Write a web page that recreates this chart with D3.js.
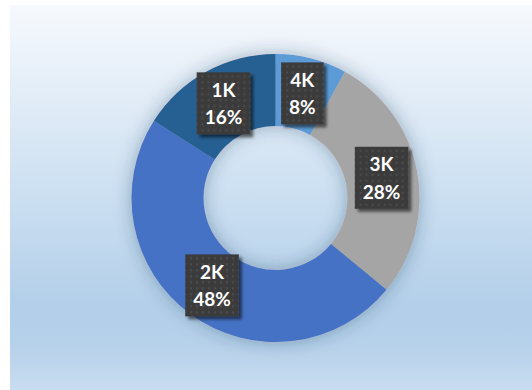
<!DOCTYPE html>
<html>
<head>
<meta charset="utf-8">
<script src="https://cdn.jsdelivr.net/npm/d3@7"></script>
<style>
  html, body { margin: 0; padding: 0; background: #ffffff; }
  svg { display: block; }
</style>
</head>
<body>
<svg id="chart" width="532" height="390"></svg>
<script>
// Resolution shares, clockwise from 12 o'clock
const categories = ["4K", "3K", "2K", "1K"];
const shares = [8, 28, 48, 16];
const sliceColors = ["#5b9bd5", "#a5a5a5", "#4472c4", "#255e91"];

const width = 532, height = 390;
const svg = d3.select("#chart");
const defs = svg.append("defs");

// plot area background: pale to light blue vertical wash
const bg = defs.append("linearGradient")
  .attr("id", "bgGrad").attr("x1", 0).attr("y1", 0).attr("x2", 0).attr("y2", 1);
[[0, "#f6f9fd"], [0.25, "#e1ecf7"], [0.5, "#cbdff1"], [0.78, "#b3cfe9"], [0.88, "#b6d1ea"], [1, "#c8dcf0"]]
  .forEach(([o, c]) => bg.append("stop").attr("offset", o).attr("stop-color", c));

// soft shadow around the ring
const ringShadow = defs.append("filter").attr("id", "ringShadow")
  .attr("x", "-30%").attr("y", "-30%").attr("width", "160%").attr("height", "160%");
ringShadow.append("feGaussianBlur").attr("in", "SourceAlpha").attr("stdDeviation", 9).attr("result", "blur");
ringShadow.append("feFlood").attr("flood-color", "#1f3550").attr("flood-opacity", 0.35).attr("result", "col");
ringShadow.append("feComposite").attr("in", "col").attr("in2", "blur").attr("operator", "in").attr("result", "sh");
const rm = ringShadow.append("feMerge");
rm.append("feMergeNode").attr("in", "sh");
rm.append("feMergeNode").attr("in", "SourceGraphic");

// shadow under the label boxes
const boxShadow = defs.append("filter").attr("id", "boxShadow")
  .attr("x", "-30%").attr("y", "-30%").attr("width", "160%").attr("height", "160%");
boxShadow.append("feGaussianBlur").attr("in", "SourceAlpha").attr("stdDeviation", 1.8).attr("result", "blur");
boxShadow.append("feOffset").attr("in", "blur").attr("dx", 2.5).attr("dy", 2.5).attr("result", "off");
boxShadow.append("feFlood").attr("flood-color", "#000").attr("flood-opacity", 0.55).attr("result", "col");
boxShadow.append("feComposite").attr("in", "col").attr("in2", "off").attr("operator", "in").attr("result", "sh");
const bm = boxShadow.append("feMerge");
bm.append("feMergeNode").attr("in", "sh");
bm.append("feMergeNode").attr("in", "SourceGraphic");

// dotted texture for label boxes
const pat = defs.append("pattern").attr("id", "dots")
  .attr("patternUnits", "userSpaceOnUse").attr("width", 6).attr("height", 6);
pat.append("rect").attr("width", 6).attr("height", 6).attr("fill", "#3b3b3b");
pat.append("circle").attr("cx", 3).attr("cy", 3).attr("r", 1.2).attr("fill", "#4b4b4b");

svg.append("rect")
  .attr("x", 10).attr("y", 5).attr("width", width - 10).attr("height", height - 5)
  .attr("fill", "url(#bgGrad)");

const cx = 275.5, cy = 198, outerR = 144, innerR = 72;

const pie = d3.pie().sort(null).value(d => d.value);
const arcs = pie(categories.map((c, i) => ({ name: c, value: shares[i], color: sliceColors[i] })));
const arc = d3.arc().innerRadius(innerR).outerRadius(outerR);

const g = svg.append("g").attr("transform", `translate(${cx},${cy})`);

g.append("g").attr("filter", "url(#ringShadow)")
  .selectAll("path").data(arcs).join("path")
  .attr("d", arc)
  .attr("fill", d => d.data.color);

// data labels: category and percentage in a dark textured box
const fontSize = 19, lineGap = 27.4;
const labels = g.append("g").selectAll("g").data(arcs).join("g")
  .attr("transform", d => `translate(${arc.centroid(d)})`);

const boxes = labels.append("rect")
  .attr("fill", "url(#dots)")
  .attr("filter", "url(#boxShadow)");

labels.each(function(d) {
  const sel = d3.select(this);
  const t1 = sel.append("text")
    .attr("y", -6.4)
    .text(d.data.name);
  const t2 = sel.append("text")
    .attr("y", -6.4 + lineGap)
    .text(d.data.value + "%");
  sel.selectAll("text")
    .attr("text-anchor", "middle")
    .attr("font-family", "Lato, 'Open Sans', sans-serif")
    .attr("font-weight", 700)
    .attr("font-size", fontSize)
    .attr("fill", "#ffffff");
  const w = Math.max(t1.node().getComputedTextLength(), t2.node().getComputedTextLength()) + 16;
  sel.select("rect")
    .attr("x", -w / 2).attr("y", -31)
    .attr("width", w).attr("height", 62);
});
</script>
</body>
</html>
